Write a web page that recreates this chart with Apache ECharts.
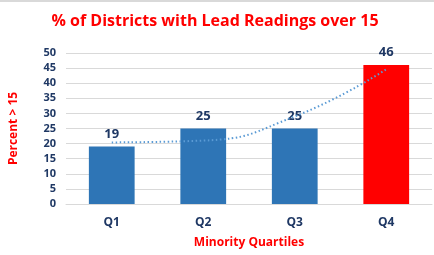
<!DOCTYPE html>
<html><head><meta charset="utf-8">
<style>html,body{margin:0;padding:0;background:#fff}#c{width:434px;height:255px}</style>
<script src="https://cdn.jsdelivr.net/npm/echarts@6/dist/echarts.min.js"></script>
</head><body><div id="c"></div>
<script>
const categories = ['Q1','Q2','Q3','Q4'];
const percentValues = [19, 25, 25, 46];
const barColors = ['#2E75B6','#2E75B6','#2E75B6','#FF0000'];
const trendValues = [20.4, 21, 29, 44.6];
const navy = '#1F3864';
const chart = echarts.init(document.getElementById('c'));
chart.setOption({
  animation: false,
  textStyle: {fontFamily: 'Open Sans'},
  title: {
    text: '% of Districts with Lead Readings over 15',
    left: 210, top: 8, textAlign: 'center',
    textStyle: {color: '#FF0000', fontSize: 16, fontWeight: 'bold', fontFamily: 'Open Sans'}
  },
  graphic: [{type: 'rect', shape: {x: 0, y: 0, width: 434, height: 2}, style: {fill: '#D9D9D9'}}],
  grid: {left: 64, right: 2, top: 53, bottom: 51},
  xAxis: {
    type: 'category', data: categories,
    axisLine: {lineStyle: {color: '#D9D9D9'}}, axisTick: {show: false},
    axisLabel: {color: navy, fontWeight: 'bold', fontSize: 12, margin: 13},
    name: 'Minority Quartiles', nameLocation: 'middle', nameGap: 33,
    nameTextStyle: {color: '#FF0000', fontWeight: 'bold', fontSize: 12}
  },
  yAxis: {
    type: 'value', min: 0, max: 50, interval: 5,
    splitLine: {lineStyle: {color: '#D9D9D9'}},
    axisLabel: {color: navy, fontWeight: 'bold', fontSize: 11, margin: 10},
    name: 'Percent > 15', nameLocation: 'middle', nameGap: 46, nameRotate: 90,
    nameTextStyle: {color: '#FF0000', fontWeight: 'bold', fontSize: 12}
  },
  series: [{
    type: 'bar', barWidth: '50%',
    data: percentValues.map((v, i) => ({value: v, itemStyle: {color: barColors[i]}})),
    label: {show: true, position: 'top', distance: 6, color: navy, fontWeight: 'bold', fontSize: 13}
  }, {
    type: 'line', data: trendValues, smooth: 0.5, symbol: 'none',
    lineStyle: {color: '#5B9BD5', width: 2, type: [1.5, 2.5]}, z: 3
  }]
});
</script></body></html>
